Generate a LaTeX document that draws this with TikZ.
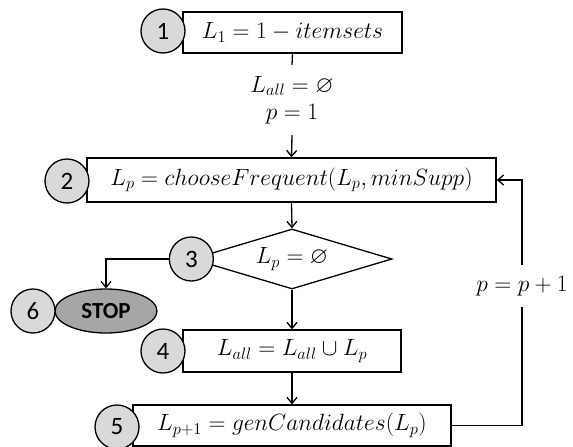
\documentclass[tikz,border=0pt]{standalone}
\usepackage{fix-cm}
\usepackage{amssymb}
\usepackage{fontspec}
\newfontfamily\calfont{Carlito}
\usetikzlibrary{shapes.geometric,arrows.meta}
\newcommand{\mfont}{\fontsize{23.5}{27}\selectfont}
\tikzset{
  box/.style={draw, fill=white, line width=1.3pt, inner sep=0pt, font=\mfont},
  num/.style={draw, circle, fill=black!15, line width=1.3pt, minimum size=44pt, inner sep=0pt, font=\calfont\fontsize{25}{28}\selectfont},
  conn/.style={line width=1.3pt},
  arr/.style={conn, -{Straight Barb[length=6pt,width=10pt]}},
  lab/.style={font=\mfont, align=center, inner sep=0pt}
}
\begin{document}
\begin{tikzpicture}[x=1pt,y=-1pt]
\useasboundingbox (0,0) rectangle (573,447);
% boxes
\node[box, minimum width=219pt, minimum height=41pt] (b1) at (292.5,32.5) {$L_1 = 1 - itemsets$};
\node[box, minimum width=409pt, minimum height=44pt] (b2) at (291.5,180) {$L_p = chooseFrequent\big(L_p, minSupp\big)$};
\node[box, diamond, aspect=3.3, minimum width=200pt, minimum height=60pt] (d3) at (292,259) {$L_p = \varnothing$};
\node[box, minimum width=218pt, minimum height=42pt] (b4) at (292,351) {$L_{all} = L_{all} \cup L_p$};
\node[box, minimum width=318pt, minimum height=41pt] (b5) at (292,425.5) {$L_{p+1} = genCandidates\big(L_p\big)$};
\node[draw, ellipse, fill=black!35, line width=1.3pt, minimum width=102pt, minimum height=44pt, inner sep=0pt, font=\calfont\bfseries\fontsize{23}{26}\selectfont] (stop) at (106,311) {STOP};
% labels
\node[lab, minimum height=70pt] (init) at (292,100) {$L_{all} = \varnothing$\\$p = 1$};
\node[lab, fill=white, minimum height=42pt] (plab) at (522,286) {$p = p + 1$};
% number circles
\node[num] (c1) at (163,31) {1};
\node[num] (c2) at (67,181) {2};
\node[num] (c3) at (d3.west) {3};
\node[num] (c4) at (163,351) {4};
\node[num] (c5) at (117,427) {5};
\node[num] (c6) at (33,311) {6};
% connectors
\draw[conn] (b1.south) -- (init.north);
\draw[arr] (init.south) -- (b2.north);
\draw[arr] (b2.south) -- (d3.north);
\draw[arr] (c3.west) -| (stop.north);
\draw[arr] (d3.south) -- (b4.north);
\draw[arr] (b4.south) -- (b5.north);
\draw[conn] (b5.east) -| (plab.south);
\draw[arr] (plab.north) |- (b2.east);
\end{tikzpicture}
\end{document}
